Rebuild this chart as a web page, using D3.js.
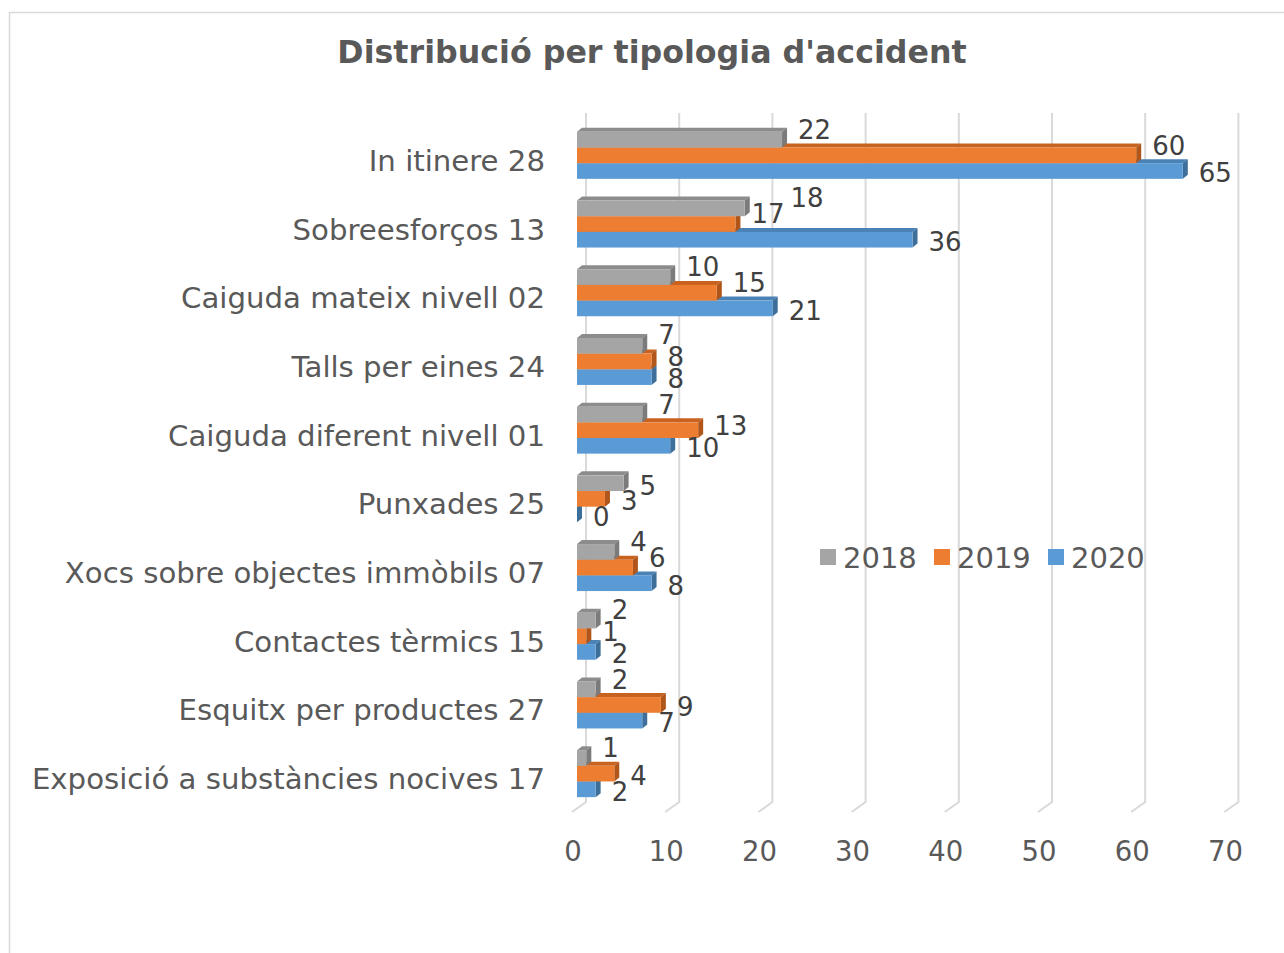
<!DOCTYPE html>
<html>
<head>
<meta charset="utf-8">
<script src="https://cdn.jsdelivr.net/npm/d3@7"></script>
<style>
  body { margin: 0; background: #fff; }
  text { font-family: "DejaVu Sans", Verdana, sans-serif; }
</style>
</head>
<body>
<div id="chart"></div>
<script>
// Data
var categories = ["In itinere 28", "Sobreesforços 13", "Caiguda mateix nivell 02", "Talls per eines 24",
    "Caiguda diferent nivell 01", "Punxades 25", "Xocs sobre objectes immòbils 07",
    "Contactes tèrmics 15", "Esquitx per productes 27", "Exposició a substàncies nocives 17"];
var years = ["2018", "2019", "2020"];
var values2018 = [22, 18, 10, 7, 7, 5, 4, 2, 2, 1];
var values2019 = [60, 17, 15, 8, 13, 3, 6, 1, 9, 4];
var values2020 = [65, 36, 21, 8, 10, 0, 8, 2, 7, 2];
var xTicks = [0, 10, 20, 30, 40, 50, 60, 70];

var seriesValues = {"2018": values2018, "2019": values2019, "2020": values2020};
var colors = {
    "2018": {front: "#A5A5A5", top: "#8C8C8C", side: "#7B7B7B"},
    "2019": {front: "#ED7D31", top: "#C8621F", side: "#B0561B"},
    "2020": {front: "#5B9BD5", top: "#4A82B6", side: "#3E6E9A"}
};

var width = 1284, height = 953;
var textColor = "#595959", labelColor = "#404040";

// 3D offsets
var barDx = 5, barDy = -4;      // bar depth
var wallDx = 9, floorDx = -5;   // back wall / front floor relative to bar front
var wallTop = 113, wallBottom = 802, floorFront = 812;

var svg = d3.select("#chart")
  .append("svg")
    .attr("width", width)
    .attr("height", height);

// chart border
svg.append("rect")
    .attr("x", 9.5).attr("y", 12.5)
    .attr("width", 1400).attr("height", 1000)
    .attr("fill", "none")
    .attr("stroke", "#D9D9D9")
    .attr("stroke-width", 1.5);

svg.append("text")
    .attr("x", 652).attr("y", 63)
    .attr("text-anchor", "middle")
    .attr("font-size", "31.7px")
    .attr("font-weight", "bold")
    .attr("fill", textColor)
    .text("Distribució per tipologia d'accident");

// Scales
var x = d3.scaleLinear()
    .domain([0, 70])
    .range([577, 577 + 652.4]);

var y = d3.scaleBand()
    .domain(categories)
    .range([121, 808])
    .paddingInner(0.316)
    .paddingOuter(0.158);

var ySub = d3.scaleBand()
    .domain(years)
    .range([0, y.bandwidth()]);

// Gridlines on back wall + floor
var grid = svg.append("g")
    .attr("stroke", "#D9D9D9")
    .attr("stroke-width", 2)
    .attr("fill", "none");

grid.selectAll("path")
  .data(xTicks)
  .join("path")
    .attr("d", d => {
        var xb = x(d) + wallDx, xf = x(d) + floorDx;
        return `M${xb},${wallTop}L${xb},${wallBottom}L${xf},${floorFront}`;
    });

// Tick labels
svg.append("g")
  .selectAll("text")
  .data(xTicks)
  .join("text")
    .attr("x", d => x(d) + floorDx + 1)
    .attr("y", 861)
    .attr("text-anchor", "middle")
    .attr("font-size", "27.5px")
    .attr("fill", textColor)
    .text(d => d);

// Category labels
svg.append("g")
  .selectAll("text")
  .data(categories)
  .join("text")
    .attr("x", 545)
    .attr("y", d => y(d) + y.bandwidth() / 2 + 5)
    .attr("dy", "0.36em")
    .attr("text-anchor", "end")
    .attr("font-size", "29.2px")
    .attr("fill", textColor)
    .text(d => d);

// Legend
var legend = svg.append("g")
  .selectAll("g")
  .data(years)
  .join("g")
    .attr("transform", (d, i) => `translate(${820 + i * 114},549)`);

legend.append("rect")
    .attr("width", 16).attr("height", 16)
    .attr("fill", d => colors[d].front);

legend.append("text")
    .attr("x", 23).attr("y", 19)
    .attr("font-size", "29px")
    .attr("fill", textColor)
    .text(d => d);

// Bars: draw bottom series first so upper bars cover their top faces
var bars = svg.append("g");
var drawOrder = years.slice().reverse();

categories.forEach(function(cat, ci) {
    drawOrder.forEach(function(yr) {
        var v = seriesValues[yr][ci];
        var x0 = x(0), x1 = x(v);
        var top = y(cat) + ySub(yr), h = ySub.bandwidth();
        var c = colors[yr];
        var g = bars.append("g");
        g.append("path")
            .attr("fill", c.top)
            .attr("d", `M${x0},${top}L${x0 + barDx},${top + barDy}L${x1 + barDx},${top + barDy}L${x1},${top}Z`);
        g.append("path")
            .attr("fill", c.side)
            .attr("d", `M${x1},${top}L${x1 + barDx},${top + barDy}L${x1 + barDx},${top + h + barDy}L${x1},${top + h}Z`);
        g.append("rect")
            .attr("x", x0).attr("y", top)
            .attr("width", x1 - x0).attr("height", h)
            .attr("fill", c.front);
    });
});

// Data labels, placed bottom-up in each group.
// A label that hits one below is stacked above it, or pushed right if that one was already lifted.
var labelSize = 26, half = 10.5;
var labels = [];
categories.forEach(function(cat, ci) {
    var placed = [];
    drawOrder.forEach(function(yr, k) {
        var v = seriesValues[yr][ci];
        var w = String(v).length * 0.636 * labelSize;
        var lx = x(v) + 16;
        var ly = y(cat) + ySub(yr) + ySub.bandwidth() / 2 + 2;
        var lifted = false;
        if (k > 0) {
            var below = seriesValues[drawOrder[k - 1]][ci];
            if (below > v + 1.7) { ly -= 12; lifted = true; }
        }
        placed.forEach(function(o) {
            if (lx < o.x2 && lx + w > o.x1 && ly - half < o.y2 && ly + half > o.y1) {
                if (o.lifted) {
                    lx = o.x2 + 6;
                    ly = o.y - 16;
                } else {
                    ly = o.y1 - half - 1;
                }
            }
        });
        placed.push({x1: lx, x2: lx + w, y1: ly - half, y2: ly + half, y: ly, lifted: lifted});
        labels.push({text: v, x: lx, y: ly});
    });
});

svg.append("g")
  .selectAll("text")
  .data(labels)
  .join("text")
    .attr("x", d => d.x)
    .attr("y", d => d.y)
    .attr("dy", "0.36em")
    .attr("font-size", labelSize + "px")
    .attr("fill", labelColor)
    .text(d => d.text);
</script>
</body>
</html>
